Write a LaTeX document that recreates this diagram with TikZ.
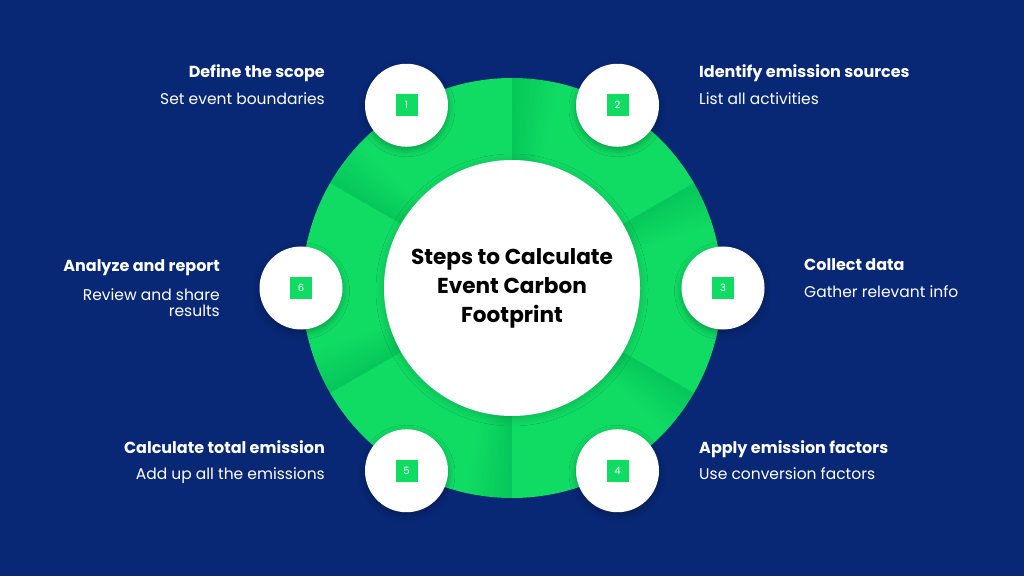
\documentclass[tikz,border=0pt]{standalone}
\usepackage{fontspec}
\setmainfont{Poppins}
\usetikzlibrary{shadows.blur}
\definecolor{navy}{RGB}{8,40,118}
\definecolor{grn}{RGB}{16,220,100}
\begin{document}
\begin{tikzpicture}[x=1pt,y=1pt,
  stepcirc/.style={circle, fill=white, minimum size=83pt, inner sep=0pt,
    blur shadow={shadow xshift=0pt, shadow yshift=-3pt, shadow blur radius=7pt, shadow opacity=30}},
  numbox/.style={fill=grn, minimum size=22pt, inner sep=0pt, text=white,
    font=\fontsize{10}{12}\selectfont},
  headl/.style={font=\fontsize{16}{19}\selectfont\bfseries, text=white, inner sep=0pt},
  subl/.style={font=\fontsize{15.5}{17}\selectfont, text=white, inner sep=0pt},
]
\fill[navy] (0,0) rectangle (1024,576);
\useasboundingbox (0,0) rectangle (1024,576);
\coordinate (C) at (512,288);
\fill[grn] (C) circle[radius=210];
\foreach \b in {90,30,-30,-90,-150,150}{
  \foreach \k in {1,...,10}{
    \fill[black,opacity=0.009] (C) -- ++(\b:210) arc[start angle=\b, end angle=\b-\k*1.3, radius=210] -- cycle;
  }
}
\node[circle, fill=white, minimum size=256pt, inner sep=0pt,
  blur shadow={shadow xshift=0pt, shadow yshift=-2pt, shadow blur radius=8pt, shadow opacity=20}] (core) at (C) {};
\node[font=\fontsize{21.6}{29}\selectfont\bfseries, align=center, text=black] (title) at (512,287.5)
  {Steps to Calculate\\Event Carbon\\Footprint};
% step circles
\path (C) ++(120:211) node[stepcirc] (s1) {};
\path (C) ++(60:211) node[stepcirc] (s2) {};
\path (C) ++(0:211) node[stepcirc] (s3) {};
\path (C) ++(-60:211) node[stepcirc] (s4) {};
\path (C) ++(-120:211) node[stepcirc] (s5) {};
\path (C) ++(180:211) node[stepcirc] (s6) {};
\node[numbox] (n1) at (s1) {1};
\node[numbox] (n2) at (s2) {2};
\node[numbox] (n3) at (s3) {3};
\node[numbox] (n4) at (s4) {4};
\node[numbox] (n5) at (s5) {5};
\node[numbox] (n6) at (s6) {6};
% labels
\node[headl, anchor=base east] (h1) at (325,498) {Define the scope};
\node[subl, anchor=base east] (t1) at (325,471) {Set event boundaries};
\node[headl, anchor=base west] (h2) at (699,498) {Identify emission sources};
\node[subl, anchor=base west] (t2) at (699,471) {List all activities};
\node[headl, anchor=base west] (h3) at (804,305) {Collect data};
\node[subl, anchor=base west] (t3) at (804,278) {Gather relevant info};
\node[headl, anchor=base east] (h6) at (220,304) {Analyze and report};
\node[subl, anchor=base east, align=right] (t6) at (220,259) {Review and share\\results};
\node[headl, anchor=base east] (h5) at (325,123) {Calculate total emission};
\node[subl, anchor=base east] (t5) at (325,97) {Add up all the emissions};
\node[headl, anchor=base west] (h4) at (699,123) {Apply emission factors};
\node[subl, anchor=base west] (t4) at (699,97) {Use conversion factors};
\end{tikzpicture}
\end{document}
